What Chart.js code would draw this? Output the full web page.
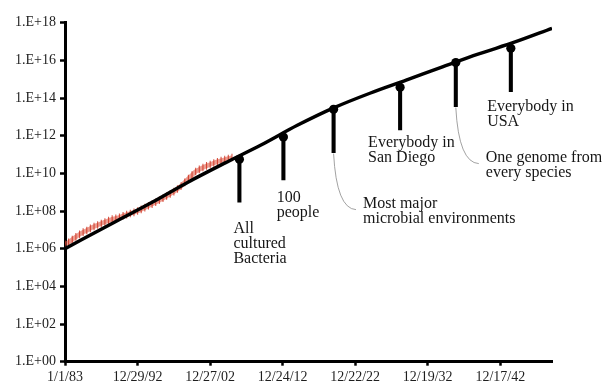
<!DOCTYPE html>
<html>
<head>
<meta charset="utf-8">
<script src="https://cdn.jsdelivr.net/npm/chart.js@4.4.1/dist/chart.umd.min.js"></script>
<style>
  html, body { margin: 0; padding: 0; background: #fff; }
  #wrap { width: 602px; height: 384px; }
</style>
</head>
<body>
<div id="wrap"><canvas id="c" width="602" height="384"></canvas></div>
<script>
// ---- Axis ticks ----
const xTickLabels = ['1/1/83', '12/29/92', '12/27/02', '12/24/12', '12/22/22', '12/19/32', '12/17/42'];
const yTickLabels = ['1.E+00', '1.E+02', '1.E+04', '1.E+06', '1.E+08', '1.E+10', '1.E+12', '1.E+14', '1.E+16', '1.E+18'];

// ---- Sequence data in the database (bases), sampled every six months from Jan 1983 ----
const genbankStart = [1983, 0];      // year, month index
const genbankStepMonths = 6;
const genbankBases = [
  1.78e6, 2.19e6, 3.09e6, 4.27e6, 5.75e6, 7.59e6, 9.33e6, 1.20e7, 1.51e7, 1.82e7,
  2.19e7, 2.63e7, 3.09e7, 3.72e7, 4.07e7, 4.68e7, 5.62e7, 6.46e7, 7.41e7, 8.51e7,
  1.00e8, 1.23e8, 1.51e8, 1.91e8, 2.34e8, 2.95e8, 3.72e8, 4.79e8, 6.31e8, 8.13e8,
  1.07e9, 1.48e9, 2.14e9, 3.31e9, 5.25e9, 8.13e9, 1.26e10, 1.62e10, 2.04e10, 2.51e10,
  2.95e10, 3.55e10, 4.17e10, 4.79e10, 5.37e10, 6.17e10, 6.92e10
];

// ---- Projected growth curve ----
const trendDates = ['1983-01-01', '1990-01-01', '1995-01-01', '2000-01-01', '2005-01-01', '2010-01-01', '2015-01-01',
                    '2020-01-01', '2025-01-01', '2030-01-01', '2035-01-01', '2040-01-01', '2045-01-01', '2050-02-01'];
const trendBases = [1.0e6, 2.8e7, 2.9e8, 3.5e9, 3.5e10, 3.2e11, 3.55e12,
                    3.0e13, 1.8e14, 8.9e14, 4.5e15, 2.2e16, 9.5e16, 5.0e17];

// ---- Milestones ----
const milestoneLabels = [
  ['All', 'cultured', 'Bacteria'],
  ['100', 'people'],
  ['Most major', 'microbial environments'],
  ['Everybody in', 'San Diego'],
  ['One genome from', 'every species'],
  ['Everybody in', 'USA']
];
const milestoneDates = ['2007-01-10', '2013-02-01', '2020-01-01', '2029-03-01', '2036-11-01', '2044-06-01'];
const milestoneBases = [5.6e10, 8.5e11, 2.5e13, 3.7e14, 7.6e15, 4.4e16];
const milestoneStemEnds = [3.0e8, 4.5e9, 1.26e11, 2.0e12, 3.5e13, 2.2e14];

// ---- helpers ----
const EPOCH = Date.UTC(1983, 0, 1);
const DAY = 86400000;
const dayOf = iso => (Date.parse(iso) - EPOCH) / DAY;
const dayOfLabel = lbl => {
  const [m, d, yy] = lbl.split('/').map(Number);
  const year = yy >= 50 ? 1900 + yy : 2000 + yy;
  return (Date.UTC(year, m - 1, d) - EPOCH) / DAY;
};

const genbankPoints = genbankBases.map((v, i) => ({
  x: (Date.UTC(genbankStart[0], genbankStart[1] + i * genbankStepMonths, 1) - EPOCH) / DAY,
  y: v
}));
const trendPoints = trendDates.map((d, i) => ({ x: dayOf(d), y: trendBases[i] }));
const milestonePoints = milestoneDates.map((d, i) => ({ x: dayOf(d), y: milestoneBases[i] }));
const stemBars = milestoneDates.map((d, i) => ({ x: dayOf(d), y: [milestoneStemEnds[i], milestoneBases[i]] }));

const SERIF = "'Liberation Serif', 'Times New Roman', serif";

// Text placement for each milestone caption, relative to the foot of its stem
const captionLayout = [
  { dx: -6,   dy: 30.7, leader: false },
  { dx: -6.7, dy: 22,   leader: false },
  { dx: 29.4, dy: 55,   leader: true },
  { dx: -32,  dy: 16.7, leader: false },
  { dx: 30,   dy: 55.6, leader: true },
  { dx: -23.7, dy: 19,  leader: false }
];

const captionPlugin = {
  id: 'captions',
  afterDatasetsDraw(chart) {
    const { ctx, scales } = chart;
    ctx.save();
    milestoneLabels.forEach((lines, i) => {
      const sx = scales.x.getPixelForValue(dayOf(milestoneDates[i]));
      const sy = scales.y.getPixelForValue(milestoneStemEnds[i]);
      const lay = captionLayout[i];
      if (lay.leader) {
        ctx.beginPath();
        ctx.strokeStyle = '#8a8a8a';
        ctx.lineWidth = 0.8;
        ctx.moveTo(sx, sy + 1);
        ctx.quadraticCurveTo(sx + 3, sy + 56, lay.dx - 7 + sx, sy + 57);
        ctx.stroke();
      }
      ctx.fillStyle = '#161616';
      ctx.font = '16px ' + SERIF;
      ctx.textAlign = 'left';
      ctx.textBaseline = 'alphabetic';
      lines.forEach((t, k) => ctx.fillText(t, sx + lay.dx, sy + lay.dy + k * 15));
    });
    ctx.restore();
  }
};

new Chart(document.getElementById('c'), {
  type: 'scatter',
  data: {
    datasets: [
      {
        label: 'Milestones',
        type: 'scatter',
        data: milestonePoints,
        pointRadius: 4.6,
        pointBorderWidth: 0,
        pointBackgroundColor: '#000',
        order: 0
      },
      {
        label: 'Stems',
        type: 'bar',
        data: stemBars,
        backgroundColor: '#000',
        barThickness: 3.4,
        grouped: false,
        order: 1
      },
      {
        label: 'Projection',
        type: 'line',
        data: trendPoints,
        borderColor: '#000',
        borderWidth: 3.4,
        pointRadius: 0,
        cubicInterpolationMode: 'monotone',
        fill: false,
        order: 2
      },
      {
        label: 'GenBank',
        type: 'line',
        data: genbankPoints,
        showLine: true,
        borderColor: 'rgba(222, 92, 72, 0.6)',
        borderWidth: 4.5,
        pointStyle: 'line',
        rotation: 90,
        pointRadius: 3.8,
        pointBorderWidth: 1.1,
        pointBorderColor: 'rgba(205, 45, 28, 0.8)',
        tension: 0.3,
        fill: false,
        order: 3
      }
    ]
  },
  options: {
    responsive: false,
    animation: false,
    devicePixelRatio: 1,
    events: [],
    layout: { padding: { top: 22.7, right: 50, left: 0, bottom: 0 } },
    plugins: { legend: { display: false }, tooltip: { enabled: false } },
    scales: {
      x: {
        type: 'linear',
        offset: false,
        min: 0,
        max: dayOf(trendDates[trendDates.length - 1]),
        afterBuildTicks(axis) { axis.ticks = xTickLabels.map(l => ({ value: dayOfLabel(l) })); },
        afterFit(axis) { axis.height = 22.3; },
        grid: { offset: false, drawOnChartArea: false, drawTicks: true, tickLength: 4, tickWidth: 2.5, tickColor: '#000' },
        border: { display: true, color: '#000', width: 3 },
        ticks: {
          autoSkip: false, maxRotation: 0, padding: 3,
          color: '#1e1e1e', font: { family: SERIF, size: 14 },
          callback: (v, i) => xTickLabels[i]
        }
      },
      y: {
        type: 'logarithmic',
        min: 1,
        max: 1e18,
        afterBuildTicks(axis) { axis.ticks = yTickLabels.map(l => ({ value: Number(l) })); },
        afterFit(axis) { axis.width = 65; },
        grid: { drawOnChartArea: false, drawTicks: true, tickLength: 5, tickWidth: 2.5, tickColor: '#000' },
        border: { display: true, color: '#000', width: 3 },
        ticks: {
          autoSkip: false, padding: 4,
          color: '#1e1e1e', font: { family: SERIF, size: 14 },
          callback: (v, i) => yTickLabels[i]
        }
      }
    }
  },
  plugins: [captionPlugin]
});
</script>
</body>
</html>
